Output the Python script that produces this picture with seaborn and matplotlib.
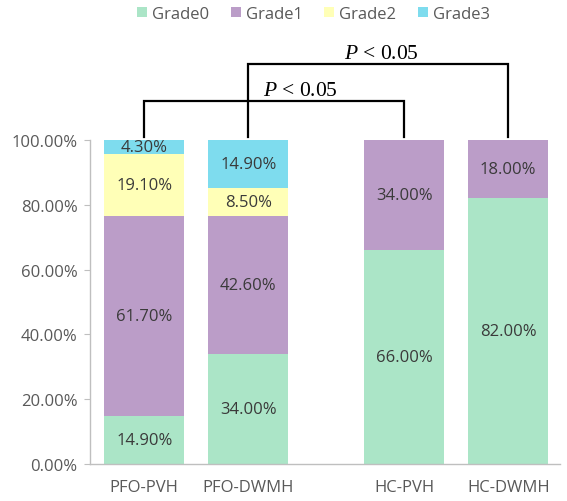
import numpy as np
import pandas as pd
import matplotlib
matplotlib.use("Agg")
import matplotlib.pyplot as plt
from matplotlib.patches import Patch
from matplotlib.ticker import PercentFormatter
import seaborn as sns

# ──────────────────────────────────────────
# DATA (percent of each group)
# ──────────────────────────────────────────
groups = ["PFO-PVH", "PFO-DWMH", "HC-PVH", "HC-DWMH"]
positions = [0, 1, 2.5, 3.5]          # gap between PFO and HC pairs
grades = ["Grade0", "Grade1", "Grade2", "Grade3"]
grade0 = [14.9, 34.0, 66.0, 82.0]
grade1 = [61.7, 42.6, 34.0, 18.0]
grade2 = [19.1, 8.5, 0.0, 0.0]
grade3 = [4.3, 14.9, 0.0, 0.0]
colors = ["#ABE5C7", "#BB9DC8", "#FFFFB7", "#7EDCEE"]

# significance brackets: (left group, right group, label)
comparisons = [("PFO-PVH", "HC-PVH", "< 0.05"), ("PFO-DWMH", "HC-DWMH", "< 0.05")]

plt.rcParams["font.family"] = ["Open Sans", "DejaVu Sans"]
plt.rcParams["mathtext.fontset"] = "custom"
plt.rcParams["mathtext.it"] = "Liberation Serif:italic"
plt.rcParams["mathtext.rm"] = "Liberation Serif"

values = np.array([grade0, grade1, grade2, grade3])
cum = values.cumsum(axis=0)

fig = plt.figure(figsize=(5.67, 5.02), dpi=100)
ax = fig.add_axes([0.159, 0.074, 0.829, 0.645])

# draw cumulative bars from top layer down so lower layers overlay
for i in range(len(grades) - 1, -1, -1):
    df = pd.DataFrame({"x": positions, "y": cum[i]})
    sns.barplot(data=df, x="x", y="y", native_scale=True, color=colors[i],
                width=0.77, saturation=1, linewidth=0, ax=ax)

# segment labels
for i in range(len(grades)):
    for j, pos in enumerate(positions):
        v = values[i, j]
        if v > 0:
            ax.text(pos, cum[i, j] - v / 2, f"{v:.2f}%", ha="center", va="center",
                    fontsize=12, color="#3A3A3A")

ax.set_xlim(-0.52, 4.0)
ax.set_ylim(0, 100)
ax.set_yticks(np.arange(0, 101, 20))
ax.yaxis.set_major_formatter(PercentFormatter(xmax=100, decimals=2))
ax.set_xticks(positions)
ax.set_xticklabels(groups)
ax.set_xlabel("")
ax.set_ylabel("")
ax.tick_params(axis="x", length=0, pad=11, labelsize=12, labelcolor="#595959")
ax.tick_params(axis="y", length=4, color="#BFBFBF", pad=5, labelsize=12, labelcolor="#595959")
for side in ["top", "right"]:
    ax.spines[side].set_visible(False)
for side in ["left", "bottom"]:
    ax.spines[side].set_color("#BFBFBF")
    ax.spines[side].set_linewidth(1)

# significance brackets
pos_of = dict(zip(groups, positions))
levels = [112.0, 123.5]
text_shift = [0.25, 0.03]
for (g1, g2, lab), lev, dx in zip(comparisons, levels, text_shift):
    x1, x2 = pos_of[g1], pos_of[g2]
    ax.plot([x1, x1, x2, x2], [101, lev, lev, 101], color="black", lw=1.6,
            clip_on=False, solid_joinstyle="miter")
    ax.text((x1 + x2) / 2 + dx, lev + 0.3, r"$P$ " + lab, ha="center", va="bottom",
            fontsize=15.5, family="Liberation Serif", clip_on=False)

handles = [Patch(facecolor=c, edgecolor="none") for c in colors]
fig.legend(handles, grades, loc="center", bbox_to_anchor=(0.553, 0.970), ncol=4,
           frameon=False, fontsize=12, handlelength=0.6, handleheight=0.6,
           handletextpad=0.3, columnspacing=1.3, labelcolor="#595959")

plt.savefig("out.png", dpi=100)
